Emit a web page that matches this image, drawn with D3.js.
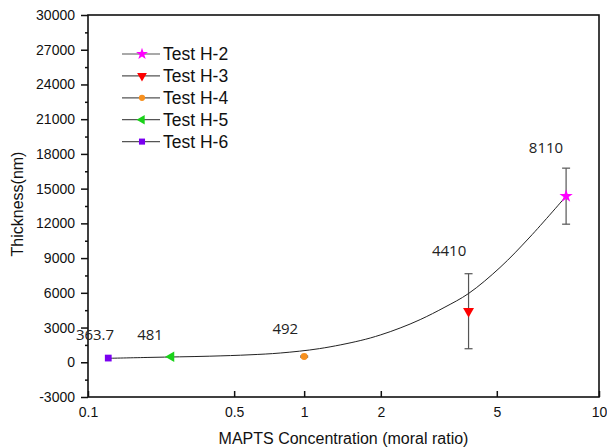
<!DOCTYPE html>
<html lang="en">
<head>
    <meta charset="UTF-8">
    <title>Thickness vs MAPTS Concentration</title>
    <style>
        body {
            margin: 0;
            background: white;
        }

        .tick text {
            font-family: "Liberation Sans", Arial, sans-serif;
            font-size: 14px;
            fill: #111;
        }

        .tick line {
            stroke: #111;
            stroke-width: 1.5px;
        }

        .axis-title {
            font-family: "Liberation Sans", Arial, sans-serif;
            font-size: 16px;
            fill: #111;
        }

        .legend text {
            font-family: "Liberation Sans", Arial, sans-serif;
            font-size: 17.5px;
            fill: #111;
        }

        .point-label {
            font-family: "Open Sans", sans-serif;
            font-size: 15px;
            fill: #222;
        }
    </style>
</head>
<body>
    <div class="chart"></div>

    <script src="https://d3js.org/d3.v7.min.js"></script>
    <script>
        // Data
        const testNames = ["Test H-2", "Test H-3", "Test H-4", "Test H-5", "Test H-6"];
        const concentration = [8, 4, 1, 0.25, 0.125];
        const thickness = [14350, 4410, 492, 481, 363.7];
        const thicknessErr = [2420, 3240, 50, 0, 0];
        const pointLabels = ["8110", "4410", "492", "481", "363.7"];
        // where each label sits, in data units (concentration, thickness)
        const labelX = [6.98, 3.43, 0.83, 0.198, 0.108];
        const labelY = [18570, 9640, 2940, 2360, 2360];

        // fitted curve
        const fitX = [0.125, 0.198, 0.38, 0.585, 0.79, 1.15, 1.66, 1.99, 2.33, 2.73, 3.32, 4, 5.11, 6.26, 8];
        const fitY = [343, 421, 525, 646, 801, 1181, 1872, 2356, 2961, 3686, 4766, 5941, 8187, 10822, 14350];

        const xTicks = [0.1, 0.5, 1, 2, 5, 10];
        const yTicks = [-3000, 0, 3000, 6000, 9000, 12000, 15000, 18000, 21000, 24000, 27000, 30000];

        // Layout
        const width = 607, height = 448;
        const margin = { top: 15, right: 8, bottom: 51, left: 88 };
        const w = width - margin.left - margin.right;
        const h = height - margin.top - margin.bottom;

        // the original axis spaces its labels unevenly, so the log scale is piecewise
        const xStops = [0, 0.286, 0.423, 0.573, 0.800, 1];

        const colors = ["#ff00ff", "#ff0000", "#f7901e", "#19d219", "#7a00f0"];
        const symbols = [
            { type: d3.symbolStar, size: 55, rot: 0 },
            { type: d3.symbolTriangle, size: 52, rot: 180 },
            { type: d3.symbolCircle, size: 38, rot: 0 },
            { type: d3.symbolTriangle, size: 48, rot: -90 },
            { type: d3.symbolSquare, size: 46, rot: 0 }
        ];

        const svg = d3.select(".chart").append("svg")
            .attr("width", width)
            .attr("height", height);

        const g = svg.append("g")
            .attr("transform", `translate(${margin.left},${margin.top})`);

        const x = d3.scaleLog()
            .domain(xTicks)
            .range(xStops.map(f => f * w));

        const y = d3.scaleLinear()
            .domain([-3000, 30000])
            .range([h, 0]);

        // Axes
        g.append("g")
            .attr("transform", `translate(0,${h})`)
            .call(d3.axisBottom(x).tickValues(xTicks).tickSize(-6).tickPadding(10).tickFormat(d => String(d)))
            .call(a => a.select(".domain").remove());

        g.append("g")
            .call(d3.axisLeft(y).tickValues(d3.range(-1500, 30000, 3000)).tickSize(3).tickFormat(""))
            .call(a => a.select(".domain").remove());

        g.append("g")
            .call(d3.axisLeft(y).tickValues(yTicks).tickSize(7).tickPadding(6).tickFormat(d => String(d)))
            .call(a => a.select(".domain").remove());

        g.append("rect")
            .attr("width", w)
            .attr("height", h)
            .attr("fill", "none")
            .attr("stroke", "#111")
            .attr("stroke-width", 1.6);

        // Axis titles
        svg.append("text")
            .attr("class", "axis-title")
            .attr("x", margin.left + w / 2)
            .attr("y", 444)
            .attr("text-anchor", "middle")
            .text("MAPTS Concentration (moral ratio)");

        svg.append("text")
            .attr("class", "axis-title")
            .attr("transform", "translate(23,204) rotate(-90)")
            .attr("text-anchor", "middle")
            .text("Thickness(nm)");

        // Error bars
        const idx = d3.range(testNames.length);
        const errBars = g.append("g")
            .attr("stroke", "#555")
            .attr("stroke-width", 1.2);

        idx.filter(i => thicknessErr[i] > 0).forEach(i => {
            const cx = x(concentration[i]);
            const y1 = y(thickness[i] + thicknessErr[i]);
            const y2 = y(thickness[i] - thicknessErr[i]);
            errBars.append("line").attr("x1", cx).attr("x2", cx).attr("y1", y1).attr("y2", y2);
            errBars.append("line").attr("x1", cx - 4).attr("x2", cx + 4).attr("y1", y1).attr("y2", y1);
            errBars.append("line").attr("x1", cx - 4).attr("x2", cx + 4).attr("y1", y2).attr("y2", y2);
        });

        // Fitted curve
        const line = d3.line()
            .x(i => x(fitX[i]))
            .y(i => y(fitY[i]))
            .curve(d3.curveCatmullRom.alpha(0.5));

        g.append("path")
            .attr("d", line(d3.range(fitX.length)))
            .attr("fill", "none")
            .attr("stroke", "#222")
            .attr("stroke-width", 1);

        // Markers
        const symbolPath = i => d3.symbol().type(symbols[i].type).size(symbols[i].size)();

        g.selectAll(".marker")
            .data(idx)
            .enter()
            .append("path")
            .attr("class", "marker")
            .attr("d", symbolPath)
            .attr("transform", i => `translate(${x(concentration[i])},${y(thickness[i])}) rotate(${symbols[i].rot})`)
            .attr("fill", i => colors[i]);

        // Value labels
        g.selectAll(".point-label")
            .data(idx)
            .enter()
            .append("text")
            .attr("class", "point-label")
            .attr("x", i => x(labelX[i]))
            .attr("y", i => y(labelY[i]))
            .attr("dy", "0.36em")
            .attr("text-anchor", "middle")
            .text(i => pointLabels[i]);

        // Legend
        const legend = svg.append("g")
            .attr("class", "legend")
            .attr("transform", "translate(122,54)");

        const rows = legend.selectAll("g")
            .data(idx)
            .enter()
            .append("g")
            .attr("transform", i => `translate(0,${i * 21.9})`);

        rows.append("line")
            .attr("x1", 0)
            .attr("x2", 38)
            .attr("stroke", "#555")
            .attr("stroke-width", 1.2);

        rows.append("path")
            .attr("d", i => d3.symbol().type(symbols[i].type).size(symbols[i].size * 0.8)())
            .attr("transform", i => `translate(20,0) rotate(${symbols[i].rot})`)
            .attr("fill", i => colors[i]);

        rows.append("text")
            .attr("x", 41)
            .attr("dy", "0.36em")
            .text(i => testNames[i]);
    </script>
</body>
</html>
